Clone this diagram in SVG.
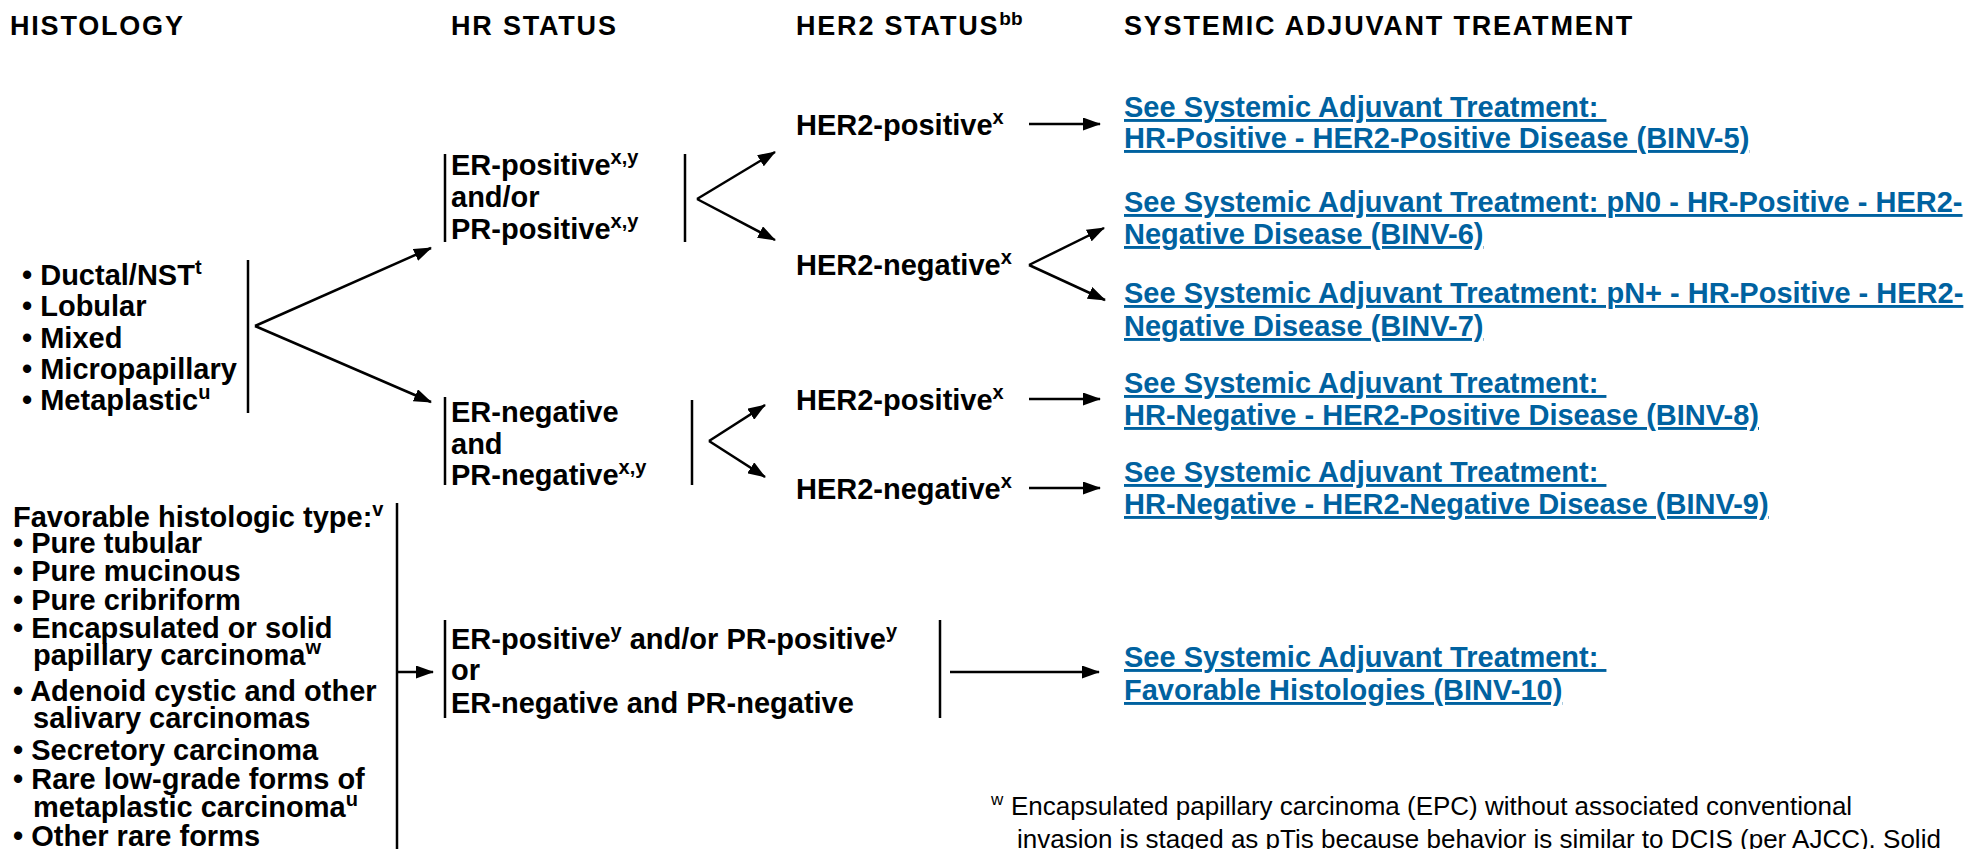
<svg xmlns="http://www.w3.org/2000/svg" width="1976" height="849" viewBox="0 0 1976 849">
<style>
text{font-family:"Liberation Sans",Arial,Helvetica,sans-serif;fill:#000}
.h{font-size:27px;font-weight:bold;letter-spacing:1.8px}
.t{font-size:29px;font-weight:bold}
.s{font-size:20px}
.hs{font-size:19px;letter-spacing:0}
.lk{fill:#0062a0;text-decoration:underline;white-space:pre}
.fn{font-size:26px;font-weight:normal}
.fs{font-size:17px;font-weight:normal}
.ln{stroke:#000;stroke-width:2.5;fill:none}
.ar{stroke:#000;stroke-width:2.5;fill:none;marker-end:url(#ah)}
</style>
<defs>
<marker id="ah" viewBox="0 0 18 13" markerWidth="18" markerHeight="13" refX="17" refY="6.5" orient="auto" markerUnits="userSpaceOnUse">
<path d="M0,0 L18,6.5 L0,13 Z" fill="#000"/>
</marker>
</defs>
<rect width="1976" height="849" fill="#fff"/>

<g id="headers">
<text class="h" x="10" y="35">HISTOLOGY</text>
<text class="h" x="451" y="35">HR STATUS</text>
<text class="h" x="796" y="35">HER2 STATUS<tspan class="hs" dy="-10">bb</tspan></text>
<text class="h" x="1124" y="35">SYSTEMIC ADJUVANT TREATMENT</text>
</g>

<g id="histology-main">
<text class="t" x="22" y="285">• Ductal/NST<tspan class="s" dy="-11">t</tspan></text>
<text class="t" x="22" y="316">• Lobular</text>
<text class="t" x="22" y="348">• Mixed</text>
<text class="t" x="22" y="379">• Micropapillary</text>
<text class="t" x="22" y="410">• Metaplastic<tspan class="s" dy="-11">u</tspan></text>
<line class="ln" x1="248" y1="260" x2="248" y2="413"/>
</g>

<g id="histology-favorable">
<text class="t" x="13" y="527">Favorable histologic type:<tspan class="s" dy="-11">v</tspan></text>
<text class="t" x="13" y="553">• Pure tubular</text>
<text class="t" x="13" y="581">• Pure mucinous</text>
<text class="t" x="13" y="610">• Pure cribriform</text>
<text class="t" x="13" y="638">• Encapsulated or solid</text>
<text class="t" x="33" y="665">papillary carcinoma<tspan class="s" dy="-11">w</tspan></text>
<text class="t" x="13" y="701">• Adenoid cystic and other</text>
<text class="t" x="33" y="728">salivary carcinomas</text>
<text class="t" x="13" y="760">• Secretory carcinoma</text>
<text class="t" x="13" y="789">• Rare low-grade forms of</text>
<text class="t" x="33" y="817">metaplastic carcinoma<tspan class="s" dy="-11">u</tspan></text>
<text class="t" x="13" y="846">• Other rare forms</text>
<line class="ln" x1="397" y1="503" x2="397" y2="849"/>
</g>

<g id="hr-positive">
<line class="ln" x1="445" y1="154" x2="445" y2="242"/>
<text class="t" x="451" y="175">ER-positive<tspan class="s" dy="-11">x,y</tspan></text>
<text class="t" x="451" y="207">and/or</text>
<text class="t" x="451" y="239">PR-positive<tspan class="s" dy="-11">x,y</tspan></text>
<line class="ln" x1="685" y1="154" x2="685" y2="242"/>
</g>

<g id="hr-negative">
<line class="ln" x1="445" y1="397" x2="445" y2="485"/>
<text class="t" x="451" y="422">ER-negative</text>
<text class="t" x="451" y="454">and</text>
<text class="t" x="451" y="485">PR-negative<tspan class="s" dy="-11">x,y</tspan></text>
<line class="ln" x1="692" y1="400" x2="692" y2="485"/>
</g>

<g id="hr-favorable">
<line class="ln" x1="445" y1="620" x2="445" y2="718"/>
<text class="t" x="451" y="649">ER-positive<tspan class="s" dy="-11">y</tspan><tspan dy="11"> and/or PR-positive</tspan><tspan class="s" dy="-11">y</tspan></text>
<text class="t" x="451" y="680">or</text>
<text class="t" x="451" y="713">ER-negative and PR-negative</text>
<line class="ln" x1="940" y1="620" x2="940" y2="718"/>
</g>

<g id="her2-pos-1"><text class="t" x="796" y="135">HER2-positive<tspan class="s" dy="-11">x</tspan></text></g>
<g id="her2-neg-1"><text class="t" x="796" y="275">HER2-negative<tspan class="s" dy="-11">x</tspan></text></g>
<g id="her2-pos-2"><text class="t" x="796" y="410">HER2-positive<tspan class="s" dy="-11">x</tspan></text></g>
<g id="her2-neg-2"><text class="t" x="796" y="499">HER2-negative<tspan class="s" dy="-11">x</tspan></text></g>

<g id="binv5">
<text class="t lk" x="1124" y="117">See Systemic Adjuvant Treatment: </text>
<text class="t lk" x="1124" y="148">HR-Positive - HER2-Positive Disease (BINV-5)</text>
</g>
<g id="binv6">
<text class="t lk" x="1124" y="212">See Systemic Adjuvant Treatment: pN0 - HR-Positive - HER2-</text>
<text class="t lk" x="1124" y="244">Negative Disease (BINV-6)</text>
</g>
<g id="binv7">
<text class="t lk" x="1124" y="303">See Systemic Adjuvant Treatment: pN+ - HR-Positive - HER2-</text>
<text class="t lk" x="1124" y="336">Negative Disease (BINV-7)</text>
</g>
<g id="binv8">
<text class="t lk" x="1124" y="393">See Systemic Adjuvant Treatment: </text>
<text class="t lk" x="1124" y="425">HR-Negative - HER2-Positive Disease (BINV-8)</text>
</g>
<g id="binv9">
<text class="t lk" x="1124" y="482">See Systemic Adjuvant Treatment: </text>
<text class="t lk" x="1124" y="514">HR-Negative - HER2-Negative Disease (BINV-9)</text>
</g>
<g id="binv10">
<text class="t lk" x="1124" y="667">See Systemic Adjuvant Treatment: </text>
<text class="t lk" x="1124" y="700">Favorable Histologies (BINV-10)</text>
</g>

<g id="connectors">
<path class="ar" d="M255,326 L431,248"/>
<path class="ar" d="M255,326 L431,402"/>
<path class="ar" d="M697,199 L775,152"/>
<path class="ar" d="M697,199 L775,240"/>
<path class="ar" d="M709,441 L765,405"/>
<path class="ar" d="M709,441 L765,477"/>
<path class="ar" d="M1029,124 L1100,124"/>
<path class="ar" d="M1029,265 L1104,228"/>
<path class="ar" d="M1029,265 L1105,300"/>
<path class="ar" d="M1029,399 L1100,399"/>
<path class="ar" d="M1029,488 L1100,488"/>
<path class="ar" d="M398,672 L433,672"/>
<path class="ar" d="M950,672 L1099,672"/>
</g>

<g id="footnote">
<text class="fs" x="991" y="805">w</text>
<text class="fn" x="1011" y="815">Encapsulated papillary carcinoma (EPC) without associated conventional</text>
<text class="fn" x="1017" y="848">invasion is staged as pTis because behavior is similar to DCIS (per AJCC). Solid</text>
</g>
</svg>
